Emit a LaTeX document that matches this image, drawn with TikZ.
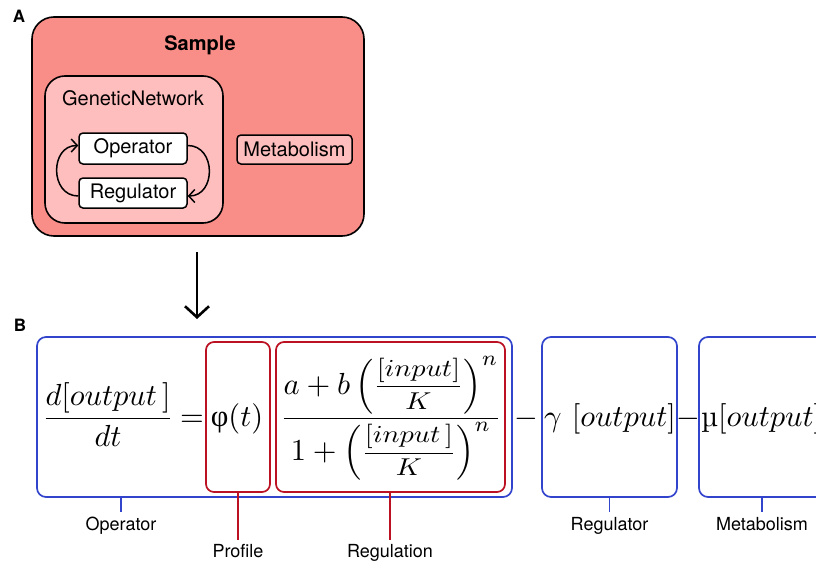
\documentclass[tikz,border=0pt]{standalone}
\usepackage{amsmath}
\usepackage[no-math]{fontspec}
\newfontfamily\hv{TeX Gyre Heros}
\newfontfamily\grk{Liberation Serif}
\usepackage{graphicx}
\usetikzlibrary{arrows.meta,calc}
\definecolor{samplefill}{HTML}{F98D87}
\definecolor{gnfill}{HTML}{FFBEBE}
\definecolor{eqblue}{HTML}{3344CC}
\definecolor{eqred}{HTML}{BB1122}
\newcommand\MM[1]{\scalebox{3.05}{$\displaystyle #1$}}
\newcommand\inner[1]{\raisebox{0.45pt}{\scalebox{0.93}[0.8]{$\dfrac{[#1]}{K}$}}}
\begin{document}
\begin{tikzpicture}[x=1pt,y=-1pt,
  txt/.style={font=\hv\fontsize{20}{23}\selectfont, inner sep=0pt},
  sublbl/.style={font=\hv\fontsize{18}{21}\selectfont, inner sep=0pt, anchor=north},
  panel/.style={font=\hv\bfseries\fontsize{17}{20}\selectfont, inner sep=0pt},
  bigbox/.style={draw=black, line width=1.6pt, rounded corners=22pt, fill=samplefill, inner sep=0pt},
  gnbox/.style={draw=black, line width=1.6pt, rounded corners=20pt, fill=gnfill, inner sep=0pt},
  smallbox/.style={draw=black, line width=1.5pt, rounded corners=4pt, inner sep=0pt, font=\hv\fontsize{20}{23}\selectfont},
  bluebox/.style={draw=eqblue, line width=1.7pt, rounded corners=9pt, inner sep=0pt, minimum height=160pt},
  redbox/.style={draw=eqred, line width=1.7pt, rounded corners=8pt, inner sep=0pt, minimum height=150pt},
  mathn/.style={inner sep=0pt, anchor=base},
  loop/.style={line width=1.5pt, -{Straight Barb[length=6pt,width=13pt,line width=1.5pt]}},
]
\useasboundingbox (0,0) rectangle (816,562);
\clip (0,0) rectangle (816,562);

% ---------- Panel A ----------
\node[panel] (labA) at (19,16) {A};
\node[bigbox, minimum width=332pt, minimum height=219pt] (sample) at (198,126.5) {};
\node[txt, font=\hv\bfseries\fontsize{20}{23}\selectfont] (sampletxt) at (200,45) {Sample};
\node[gnbox, minimum width=178pt, minimum height=147pt] (gn) at (134,149.5) {};
\node[txt] (gntxt) at (133,98) {GeneticNetwork};
\node[smallbox, fill=white, minimum width=108pt, minimum height=31pt] (op) at (133,148.5) {Operator};
\node[smallbox, fill=white, minimum width=108pt, minimum height=30pt] (reg) at (133,193) {Regulator};
\node[smallbox, fill=gnfill, minimum width=115pt, minimum height=29pt] (met) at (294.5,149.5) {Metabolism};
\draw[loop] ([yshift=-3pt]reg.west) to[out=180,in=180,looseness=1.45] ([yshift=3pt]op.west);
\draw[loop] ([yshift=3pt]op.east) to[out=0,in=0,looseness=1.45] ([yshift=-3pt]reg.east);

\coordinate (arrtop) at (197,252);
\coordinate (arrbot) at (197,319);
\draw[line width=2.6pt, -{Straight Barb[length=11pt,width=24pt,line width=2.6pt]}] (arrtop) -- (arrbot);

% ---------- Panel B ----------
\node[panel] (labB) at (20,325) {B};
\node[bluebox, minimum width=475pt] (opbox) at (274.5,417) {};
\node[redbox, minimum width=64pt] (profbox) at (238,417) {};
\node[redbox, minimum width=229pt] (regulbox) at (390.5,417) {};
\node[bluebox, minimum width=135pt] (regbox) at (609.5,417) {};
\node[bluebox, minimum width=126pt] (metbox) at (762,417) {};

\node[mathn] (lhs) at (108,426) {\MM{\frac{d[output\,]}{dt}}};
\node[mathn] (eq) at (192,426) {\MM{=}};
\node[mathn] (phi) at (237,426) {\MM{\mbox{\grk φ}(t)}};
\node[mathn] (frac) at (391,426) {\MM{\frac{a+b\left(\inner{input}\right)^{n}}{1+\left(\inner{input\,}\right)^{n}}}};
\node[mathn] (m1) at (526.5,426) {\MM{-}};
\node[mathn] (gam) at (610,426) {\MM{\gamma\ [output]}};
\node[mathn] (m2) at (688,426) {\MM{-}};
\node[mathn, anchor=base west] (mu) at (701,426) {\MM{\mbox{\rmfamily µ}[output]}};

\node[sublbl] (lop) at (121,517) {Operator};
\node[sublbl] (lprof) at (238,544) {Profile};
\node[sublbl] (lregul) at (390,544) {Regulation};
\node[sublbl] (lreg) at (609.5,517) {Regulator};
\node[sublbl] (lmet) at (762,517) {Metabolism};

\draw[eqblue, line width=1.7pt] (lop.north |- opbox.south) -- ([yshift=5pt]lop.north);
\draw[eqblue, line width=1.7pt] (lreg.north |- regbox.south) -- ([yshift=5pt]lreg.north);
\draw[eqblue, line width=1.7pt] (lmet.north |- metbox.south) -- ([yshift=5pt]lmet.north);
\draw[eqred, line width=1.7pt] (lprof.north |- profbox.south) -- ([yshift=4pt]lprof.north);
\draw[eqred, line width=1.7pt] (lregul.north |- regulbox.south) -- ([yshift=4pt]lregul.north);
\end{tikzpicture}
\end{document}
